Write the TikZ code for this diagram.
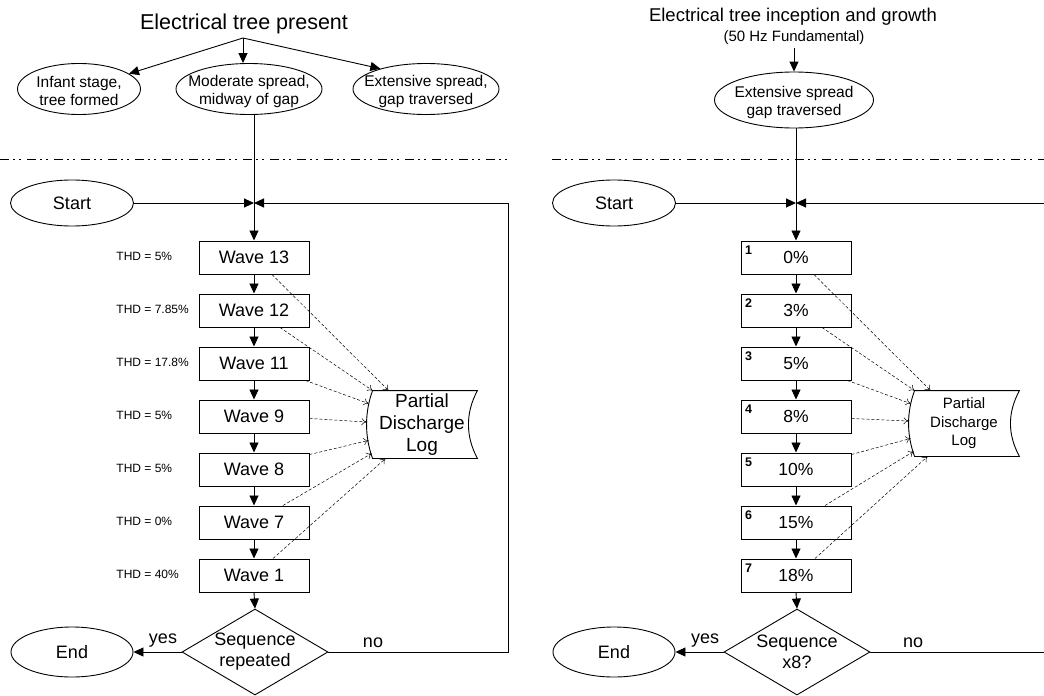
\documentclass[tikz,border=0pt]{standalone}
\usepackage{fontspec}
\setmainfont{Liberation Sans}
\usetikzlibrary{shapes.geometric,arrows.meta,calc}
\begin{document}
\begin{tikzpicture}[x=1pt,y=-1pt,line width=0.9pt,
  arr/.style={-{Triangle[length=10pt,width=9pt]}},
  darr/.style={line width=0.5pt,dash pattern=on 3pt off 2pt,-{To[length=5pt,width=7pt]}},
  sepline/.style={line width=0.8pt,dash pattern=on 9pt off 4pt on 2pt off 4pt on 2pt off 6pt},
  ell/.style={draw,ellipse,inner sep=0pt},
  lbl/.style={align=center,font=\fontsize{15.5}{18}\selectfont,yshift=-2pt},
  wbox/.style={draw,rectangle,minimum width=110pt,minimum height=33pt,inner sep=0pt,line width=1pt,font=\fontsize{18}{20}\selectfont},
  pbox/.style={draw,rectangle,minimum width=110pt,minimum height=33pt,inner sep=0pt,line width=1pt,font=\fontsize{17.5}{20}\selectfont},
  thd/.style={anchor=west,inner sep=0pt,font=\fontsize{12}{14}\selectfont},
  num/.style={font=\fontsize{12.5}{14}\selectfont\bfseries},
  big/.style={font=\fontsize{18}{21}\selectfont},
  dia/.style={draw,diamond,inner sep=0pt,minimum width=146pt,minimum height=86pt},
  pdtext/.style={align=center,inner sep=0pt,minimum width=110pt,minimum height=67pt}
]
\useasboundingbox (0,0) rectangle (1044,696);
\fill[white] (0,0) rectangle (1044,696);

% ---------------- separators
\draw[sepline] (0,159) -- (507,159);
\draw[sepline] (552,159) -- (1044,159);

% ---------------- left top
\node[anchor=base,font=\fontsize{21.5}{25}\selectfont] (t1) at (244,29) {Electrical tree present};
\coordinate (br) at (243,38);
\node[ell,minimum width=123pt,minimum height=51pt,label={[lbl]center:{Infant stage,\\tree formed}}] (e1) at (79,89) {};
\node[ell,minimum width=146pt,minimum height=51pt,label={[lbl]center:{Moderate spread,\\midway of gap}}] (e2) at (249,89) {};
\node[ell,minimum width=146pt,minimum height=51pt,label={[lbl]center:{Extensive spread,\\gap traversed}}] (e3) at (426,89) {};
\draw[arr] (br) -- (e1.17);
\draw[arr] (br) -- (br |- e2.north);
\draw[arr] (br) -- (e3.156);

% ---------------- right top
\node[anchor=base,font=\fontsize{18.5}{22}\selectfont] (t2) at (793,21) {Electrical tree inception and growth};
\node[anchor=base,font=\fontsize{15}{18}\selectfont] (t3) at (794,41) {(50 Hz Fundamental)};
\node[ell,minimum width=159pt,minimum height=56pt,label={[lbl]center:{Extensive spread\\gap traversed}}] (e4) at (794,100) {};
\draw[arr] (t3.south -| e4.north) -- (e4.north);

% ---------------- left flow
\coordinate (j1) at (254,203);
\node[ell,big,minimum width=123pt,minimum height=46pt] (s1) at (72,203) {Start};
\node[wbox] (w13) at (254,257.5) {Wave 13};
\node[wbox] (w12) at (254,310.5) {Wave 12};
\node[wbox] (w11) at (254,363.5) {Wave 11};
\node[wbox] (w9) at (254,416.5) {Wave 9};
\node[wbox] (w8) at (254,469.5) {Wave 8};
\node[wbox] (w7) at (254,522.5) {Wave 7};
\node[wbox] (w1) at (254,575.5) {Wave 1};
\node[thd] at (116,256.5) {THD = 5\%};
\node[thd] at (116,309.5) {THD = 7.85\%};
\node[thd] at (116,362.5) {THD = 17.8\%};
\node[thd] at (116,415.5) {THD = 5\%};
\node[thd] at (116,468.5) {THD = 5\%};
\node[thd] at (116,521.5) {THD = 0\%};
\node[thd] at (116,574.5) {THD = 40\%};
\node[dia,label={[big,align=center]center:{Sequence\\repeated}}] (d1) at (255,652) {};
\node[ell,big,minimum width=122pt,minimum height=50pt] (n1) at (72,652) {End};
\node[pdtext,font=\fontsize{19}{22}\selectfont] (p1) at (422,424.5) {Partial\\Discharge\\Log};
\draw ($(p1.north west)+(6,0)$) -- (p1.north east)
  .. controls ($(p1.north east)+(-12,22)$) and ($(p1.south east)+(-12,-22)$) .. (p1.south east)
  -- ($(p1.south west)+(6,0)$)
  .. controls ($(p1.south west)+(-2,-22)$) and ($(p1.north west)+(-2,22)$) .. cycle;
\coordinate (c1) at (508,652);
\draw[arr] (e2.south -| w13.north) -- (w13.north);
\draw[arr] (s1.east) -- (j1);
\draw[arr] (d1.east) -- (c1) |- (j1);
\draw[arr] (w13) -- (w12);
\draw[arr] (w12) -- (w11);
\draw[arr] (w11) -- (w9);
\draw[arr] (w9) -- (w8);
\draw[arr] (w8) -- (w7);
\draw[arr] (w7) -- (w1);
\draw[arr] (w1.south) -- (d1.north);
\draw[arr] (d1.west) -- (n1.east);
\node[big,anchor=base] at (163,643) {yes};
\node[big,anchor=base] at (373,647) {no};
\draw[darr] ($(w13.south)+(18,0)$) -- ($(p1.north west)+(22,0)$);
\draw[darr] ($(w12.south)+(26,0)$) -- ($(p1.north west)+(6,0)$);
\draw[darr] ($(w11.south east)+(-4,0)$) -- ($(p1.north west)+(2,13)$);
\draw[darr] ($(w9.east)+(0,2)$) -- ($(p1.west)+(0,-2.5)$);
\draw[darr] ($(w8.north east)+(0,2)$) -- ($(p1.south west)+(2,-18)$);
\draw[darr] ($(w7.north)+(29,0)$) -- ($(p1.south west)+(5,-5)$);
\draw[darr] ($(w1.north)+(19,0)$) -- ($(p1.south west)+(19,0)$);

% ---------------- right flow
\begin{scope}[xshift=542pt]
\coordinate (j2) at (254,203);
\node[ell,big,minimum width=123pt,minimum height=46pt] (s2) at (72,203) {Start};
\node[pbox] (r1) at (254,257.5) {0\%};
\node[pbox] (r2) at (254,310.5) {3\%};
\node[pbox] (r3) at (254,363.5) {5\%};
\node[pbox] (r4) at (254,416.5) {8\%};
\node[pbox] (r5) at (254,469.5) {10\%};
\node[pbox] (r6) at (254,522.5) {15\%};
\node[pbox] (r7) at (254,575.5) {18\%};
\node[num] at ($(r1.north west)+(8,10)$) {1};
\node[num] at ($(r2.north west)+(8,10)$) {2};
\node[num] at ($(r3.north west)+(8,10)$) {3};
\node[num] at ($(r4.north west)+(8,10)$) {4};
\node[num] at ($(r5.north west)+(8,10)$) {5};
\node[num] at ($(r6.north west)+(8,10)$) {6};
\node[num] at ($(r7.north west)+(8,10)$) {7};
\node[dia,label={[big,align=center]center:{Sequence\\x8?}}] (d2) at (255,652) {};
\node[ell,big,minimum width=122pt,minimum height=50pt] (n2) at (72,652) {End};
\node[pdtext,minimum height=65pt,font=\fontsize{15}{18.5}\selectfont] (p2) at (422,423.5) {Partial\\Discharge\\Log};
\draw ($(p2.north west)+(6,0)$) -- (p2.north east)
  .. controls ($(p2.north east)+(-12,22)$) and ($(p2.south east)+(-12,-22)$) .. (p2.south east)
  -- ($(p2.south west)+(6,0)$)
  .. controls ($(p2.south west)+(-2,-22)$) and ($(p2.north west)+(-2,22)$) .. cycle;
\coordinate (c2) at (506,652);
\draw[arr] (s2.east) -- (j2);
\draw[arr] (d2.east) -- (c2) |- (j2);
\draw[arr] (r1) -- (r2);
\draw[arr] (r2) -- (r3);
\draw[arr] (r3) -- (r4);
\draw[arr] (r4) -- (r5);
\draw[arr] (r5) -- (r6);
\draw[arr] (r6) -- (r7);
\draw[arr] (r7.south) -- (d2.north);
\draw[arr] (d2.west) -- (n2.east);
\node[big,anchor=base] at (163,643) {yes};
\node[big,anchor=base] at (371,647) {no};
\draw[darr] ($(r1.south)+(18,0)$) -- ($(p2.north west)+(22,0)$);
\draw[darr] ($(r2.south)+(26,0)$) -- ($(p2.north west)+(6,0)$);
\draw[darr] ($(r3.south east)+(-4,0)$) -- ($(p2.north west)+(2,13)$);
\draw[darr] ($(r4.east)+(0,2)$) -- ($(p2.west)+(0,-2.5)$);
\draw[darr] ($(r5.north east)+(0,2)$) -- ($(p2.south west)+(2,-18)$);
\draw[darr] ($(r6.north)+(29,0)$) -- ($(p2.south west)+(5,-5)$);
\draw[darr] ($(r7.north)+(19,0)$) -- ($(p2.south west)+(19,0)$);
\end{scope}
\draw[arr] (e4.south -| r1.north) -- (r1.north);
\end{tikzpicture}
\end{document}
